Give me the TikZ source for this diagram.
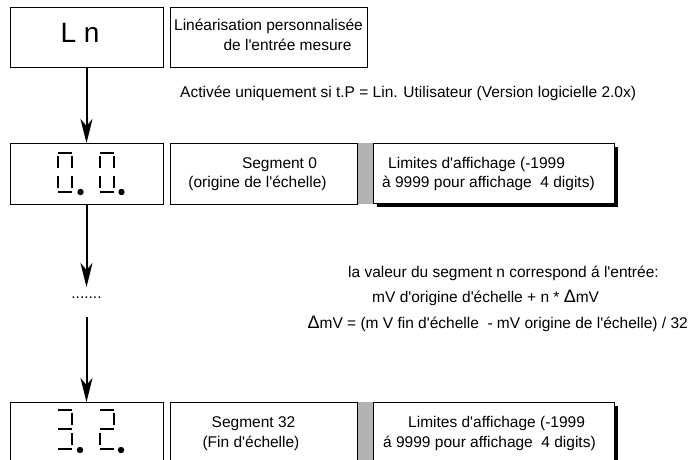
\documentclass[tikz,border=0pt]{standalone}
\usepackage{fontspec}
\setmainfont{Liberation Sans}
\usetikzlibrary{arrows.meta,shadows}

\definecolor{bargray}{RGB}{178,178,178}
\newcommand{\ap}{\textquotesingle}

% seven-segment geometry, digit origin at top-left, 14 wide, 39 high
\def\sgA{(0,0) -- (14,0)}
\def\sgB{(14,3) -- (14,15)}
\def\sgC{(14,23) -- (14,35)}
\def\sgD{(0,39) -- (14,39)}
\def\sgE{(0,23) -- (0,35)}
\def\sgF{(0,3) -- (0,15)}
\def\sgG{(0,19) -- (14,19)}

\begin{document}
\begin{tikzpicture}[x=1pt,y=-1pt,
  frame/.style={draw=black, line width=0.9pt, fill=white, minimum height=61pt,
                inner sep=0pt, outer sep=0pt},
  limbox/.style={frame, minimum height=60pt,
                 drop shadow={shadow xshift=3.5pt, shadow yshift=-3.5pt, fill=black, opacity=1}},
  bar/.style={fill=bargray, draw=none, minimum width=16pt, minimum height=61pt,
              inner sep=0pt, outer sep=0pt},
  txt/.style={inner sep=0pt, font=\fontsize{15.5}{19}\selectfont, text height=11pt, text depth=0pt},
  seg/.style={line width=2.6pt, line cap=butt},
  flow/.style={line width=2pt, -{Stealth[length=24pt, width=12pt, inset=7pt]}}
]
\clip (0,0) rectangle (692,459);
\fill[white] (0,0) rectangle (692,459);

% ---- header row
\node[frame, minimum width=153pt, minimum height=60pt] (ln) at (86.5,37) {};
\node[txt, font=\fontsize{28}{32}\selectfont, text height=20pt] (lnlabel) at (80,32) {L n};
\node[frame, minimum width=197pt, minimum height=60pt] (lin) at (268.5,37) {};
\node[txt] (lin1) at (268.5,25) {Linéarisation personnalisée};
\node[txt] (lin2) at (287.5,45) {de l\ap{}entrée mesure};
\node[txt, anchor=west] (act) at (180,92) {Activée uniquement si t.P = Lin. Utilisateur (Version logicielle 2.0x)};

% ---- segment 0 row
\node[frame, minimum width=153pt] (d0) at (86.5,173.5) {};
\node[bar] (g0) at (365,173.5) {};
\node[frame, minimum width=187pt] (s0) at (263.5,173.5) {};
\node[txt] (s0a) at (279.5,163) {Segment 0};
\node[txt] (s0b) at (257.5,182) {(origine de l\ap{}échelle)};
\node[limbox, minimum width=241pt] (l0) at (493.5,173) {};
\node[txt, anchor=west] (l0a) at (388,163) {Limites d\ap{}affichage (-1999};
\node[txt, anchor=west] (l0b) at (382,182) {à 9999 pour affichage~ 4 digits)};

% display "0.0."
\begin{scope}[shift={(58,153)}]
  \draw[seg] \sgA \sgB \sgC \sgD \sgE \sgF;
  \fill (22.5,39) circle (3.2pt);
\end{scope}
\begin{scope}[shift={(100,153)}]
  \draw[seg] \sgA \sgB \sgC \sgD \sgE \sgF;
  \fill (21.5,39) circle (3.2pt);
\end{scope}

% ---- segment 32 row
\node[frame, minimum width=153pt] (d32) at (86.5,432.5) {};
\node[bar] (g32) at (365,432.5) {};
\node[frame, minimum width=187pt] (s32) at (263.5,432.5) {};
\node[txt] (s32a) at (253.5,422) {Segment 32};
\node[txt] (s32b) at (251,442) {(Fin d\ap{}échelle)};
\node[limbox, minimum width=241pt] (l32) at (493.5,432) {};
\node[txt, anchor=west] (l32a) at (408,422) {Limites d\ap{}affichage (-1999};
\node[txt, anchor=west] (l32b) at (383,442) {á 9999 pour affichage~ 4 digits)};

% display "3.2."
\begin{scope}[shift={(58,410)}]
  \draw[seg] \sgA \sgB \sgC \sgD \sgG;
  \fill (22,40) circle (3.2pt);
\end{scope}
\begin{scope}[shift={(100,410)}]
  \draw[seg] \sgA \sgB \sgE \sgD \sgG;
  \fill (21,40) circle (3.2pt);
\end{scope}

% ---- flow arrows
\coordinate (tip2) at (86.5,287);
\node[txt, text height=3pt] (dots) at (86.5,297) {.......};
\coordinate (start3) at (86.5,317);
\draw[flow] (ln.south) -- (d0.north);
\draw[flow] (d0.south) -- (tip2);
\draw[flow] (start3) -- (d32.north);

% ---- formula notes
\node[txt, anchor=west] (f1) at (348,272) {la valeur du segment n correspond á l\ap{}entrée:};
\node[txt, anchor=west] (f2) at (372,297) {mV d\ap{}origine d\ap{}échelle + n * {\fontsize{18}{19}\selectfont Δ}mV};
\node[txt, anchor=east] (f3) at (688,323) {{\fontsize{18}{19}\selectfont Δ}mV = (m V fin d\ap{}échelle~ - mV origine de l\ap{}échelle) / 32};
\end{tikzpicture}
\end{document}
